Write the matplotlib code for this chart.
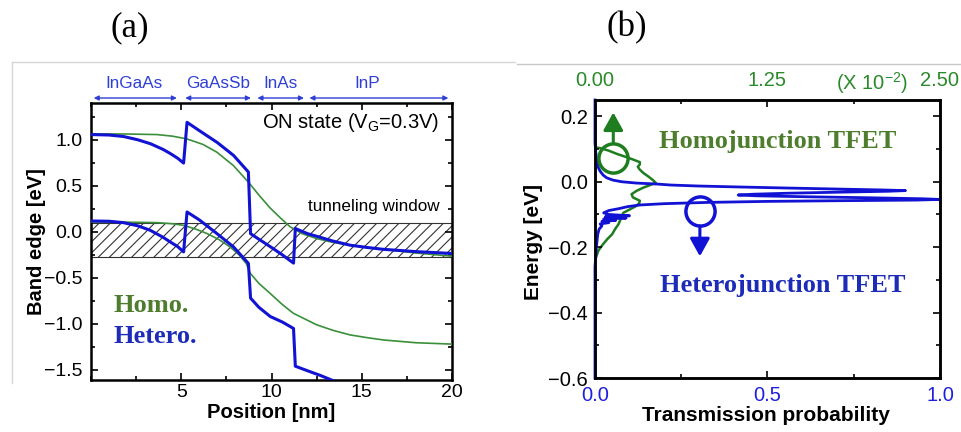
import matplotlib
matplotlib.use("Agg")
import matplotlib.pyplot as plt
from matplotlib.lines import Line2D
from matplotlib.ticker import MultipleLocator

plt.rcParams["font.family"] = ["Liberation Sans", "DejaVu Sans"]
plt.rcParams["hatch.linewidth"] = 0.8

# ---- panel (a): band edges along the channel ----
het_cb_x = [0.0, 1.0, 1.8, 2.6, 3.3, 4.0, 4.4, 4.8, 5.13, 5.32, 6.0, 7.0, 7.9, 8.72,
            8.84, 9.3, 10.0, 10.6, 11.22, 11.32, 12.0, 12.5, 13.4, 14.35, 15.3, 16.2, 18.0, 20.0]
het_cb_y = [1.057, 1.052, 1.036, 1.0, 0.957, 0.895, 0.85, 0.80, 0.747, 1.19, 1.10, 0.97, 0.83, 0.65,
            -0.02, -0.08, -0.17, -0.25, -0.34, 0.036, -0.02, -0.048, -0.10, -0.145, -0.17, -0.19, -0.215, -0.235]

het_vb_x = [0.0, 1.0, 1.8, 2.6, 3.28, 4.0, 4.39, 4.8, 5.13, 5.32, 6.0, 6.97, 7.89, 8.72,
            8.84, 9.3, 9.93, 10.6, 11.22, 11.32, 12.0, 12.7, 13.45]
het_vb_y = [0.118, 0.115, 0.10, 0.065, 0.017, -0.06, -0.11, -0.16, -0.218, 0.216, 0.13, -0.018, -0.163, -0.343,
            -0.72, -0.82, -0.92, -0.98, -1.05, -1.46, -1.51, -1.56, -1.62]

hom_cb_x = [0.0, 2.0, 3.65, 4.5, 5.31, 6.2, 6.97, 7.89, 8.72, 9.3, 9.92, 10.5, 11.03, 11.7,
            12.5, 13.4, 14.35, 15.3, 16.2, 18.0, 20.0]
hom_cb_y = [1.065, 1.063, 1.057, 1.04, 1.01, 0.95, 0.866, 0.72, 0.54, 0.40, 0.26, 0.15, 0.055, -0.02,
            -0.073, -0.115, -0.145, -0.17, -0.19, -0.23, -0.265]

hom_vb_x = [0.0, 2.0, 3.65, 4.5, 5.13, 5.8, 6.42, 7.1, 7.7, 8.2, 8.6, 8.82, 9.3, 9.93, 10.6,
            11.21, 12.5, 13.4, 14.35, 15.3, 16.2, 18.0, 20.0]
hom_vb_y = [0.107, 0.105, 0.10, 0.088, 0.071, 0.03, -0.018, -0.085, -0.163, -0.25, -0.343, -0.45, -0.56, -0.67, -0.79,
            -0.885, -1.01, -1.07, -1.12, -1.15, -1.175, -1.205, -1.22]

window_x = [0.0, 20.0]
window_lo = [-0.27, -0.27]
window_hi = [0.097, 0.097]

layer_names = ["InGaAs", "GaAsSb", "InAs", "InP"]
layer_spans = [(0.15, 4.76), (5.22, 8.86), (9.22, 11.8), (12.1, 19.8)]
layer_text_x = [2.4, 7.07, 10.5, 15.3]

# ---- panel (b): transmission vs energy ----
het_E = [0.25, 0.12, 0.093, 0.063, 0.045, 0.032, 0.020, 0.012, 0.005, 0.000, -0.004, -0.007,
         -0.010, -0.013, -0.016, -0.019, -0.022, -0.025, -0.027, -0.029, -0.032, -0.035, -0.038,
         -0.0405, -0.043, -0.046, -0.049, -0.052, -0.054, -0.056, -0.058, -0.060, -0.063, -0.067,
         -0.071, -0.076, -0.082, -0.088, -0.095, -0.100, -0.104, -0.107, -0.111, -0.114, -0.118,
         -0.121, -0.125, -0.129, -0.135, -0.145, -0.16, -0.18, -0.20, -0.23, -0.26, -0.60]
het_T = [0.0, 0.0, 0.002, 0.005, 0.009, 0.015, 0.024, 0.034, 0.052, 0.078, 0.12, 0.18,
         0.22, 0.30, 0.42, 0.55, 0.69, 0.83, 0.90, 0.85, 0.70, 0.56, 0.46,
         0.415, 0.47, 0.62, 0.80, 0.95, 1.0, 0.93, 0.70, 0.50, 0.33, 0.20,
         0.13, 0.095, 0.07, 0.04, 0.025, 0.04, 0.10, 0.03, 0.09, 0.025, 0.06,
         0.02, 0.04, 0.015, 0.02, 0.012, 0.008, 0.006, 0.004, 0.002, 0.0, 0.0]

hom_E = [0.105, 0.103, 0.095, 0.085, 0.075, 0.068, 0.060, 0.053, 0.046, 0.037, 0.027, 0.015,
         0.005, -0.003, -0.010, -0.018, -0.028, -0.038, -0.048, -0.058, -0.066, -0.075, -0.085,
         -0.095, -0.11, -0.13, -0.145, -0.16, -0.175, -0.19, -0.21, -0.24]
hom_T = [0.0, 0.038, 0.10, 0.16, 0.23, 0.275, 0.325, 0.325, 0.31, 0.325, 0.35, 0.39,
         0.42, 0.44, 0.40, 0.35, 0.30, 0.265, 0.275, 0.325, 0.32, 0.295, 0.25,
         0.205, 0.19, 0.17, 0.145, 0.125, 0.09, 0.06, 0.025, 0.0]   # in units of 1e-2

blue = "#1212d4"
green_line = "#3a8f3a"
green_dark = "#1e7d1e"
green_text = "#4e7d2e"
blue_text = "#1c2cb8"
label_blue = "#2f3fd6"

fig = plt.figure(figsize=(9.62, 4.32), dpi=100)

# decorative frame lines from the source screenshot
fig.add_artist(Line2D([12 / 962, 12 / 962], [1 - 62 / 432, 1 - 383 / 432], transform=fig.transFigure, color="#d6d6d6", lw=1))
fig.add_artist(Line2D([12 / 962, 515 / 962], [1 - 62 / 432, 1 - 62 / 432], transform=fig.transFigure, color="#d6d6d6", lw=1))
fig.add_artist(Line2D([517 / 962, 1.0], [1 - 64 / 432, 1 - 64 / 432], transform=fig.transFigure, color="#c8c8c8", lw=1))

fig.text(130 / 962, 1 - 28 / 432, "(a)", family="Liberation Serif", fontsize=25, ha="center", va="center")
fig.text(627 / 962, 1 - 28 / 432, "(b)", family="Liberation Serif", fontsize=25, ha="center", va="center")

# ---------------- panel (a) ----------------
ax = fig.add_axes([91 / 962, 1 - 380 / 432, 361 / 962, 277 / 432])
ax.fill_between(window_x, window_lo, window_hi, facecolor="white", edgecolor="#333333", hatch="///", lw=0.8, zorder=1)
ax.plot(hom_cb_x, hom_cb_y, color=green_line, lw=1.2, zorder=3)
ax.plot(hom_vb_x, hom_vb_y, color=green_line, lw=1.2, zorder=3)
ax.plot(het_cb_x, het_cb_y, color=blue, lw=2.2, zorder=4)
ax.plot(het_vb_x, het_vb_y, color=blue, lw=2.2, zorder=4)

ax.set_xlim(0, 20)
ax.set_ylim(-1.61, 1.4)
ax.xaxis.set_major_locator(MultipleLocator(5))
ax.xaxis.set_minor_locator(MultipleLocator(2.5))
ax.yaxis.set_major_locator(MultipleLocator(0.5))
ax.yaxis.set_minor_locator(MultipleLocator(0.25))
ax.set_xticks([5, 10, 15, 20])
ax.tick_params(which="both", direction="in", top=True, right=True, width=1.2)
ax.tick_params(which="major", length=5, labelsize=14)
ax.tick_params(which="minor", length=3)
ax.tick_params(axis="y", pad=6)
ax.tick_params(axis="x", pad=3)
for s in ax.spines.values():
    s.set_linewidth(1.8)
ax.set_xlabel("Position [nm]", fontsize=14.5, fontweight="bold", va="center")
ax.set_ylabel("Band edge [eV]", fontsize=14.5, fontweight="bold", va="center")
ax.xaxis.set_label_coords(0.498, -0.118)
ax.yaxis.set_label_coords(-0.152, 0.5)

for (x0, x1), name, xt in zip(layer_spans, layer_names, layer_text_x):
    ax.annotate("", xy=(x1, 1.018), xytext=(x0, 1.018), xycoords=ax.get_xaxis_transform(),
                arrowprops=dict(arrowstyle="<|-|>", color=label_blue, lw=1.0, mutation_scale=7, shrinkA=0, shrinkB=0),
                annotation_clip=False)
    ax.text(xt, 1.069, name, transform=ax.get_xaxis_transform(), ha="center", va="center",
            color=label_blue, fontsize=12.3)

ax.text(19.3, 1.19, "ON state (V$_\\mathregular{G}$=0.3V)", ha="right", va="center", fontsize=14.5)
ax.text(19.33, 0.27, "tunneling window", ha="right", va="center", fontsize=12.3)
ax.text(1.25, -0.80, "Homo.", family="Liberation Serif", fontweight="bold", fontsize=19,
        color=green_text, ha="left", va="center")
ax.text(1.25, -1.14, "Hetero.", family="Liberation Serif", fontweight="bold", fontsize=19,
        color=blue_text, ha="left", va="center")

# ---------------- panel (b) ----------------
axr = fig.add_axes([595 / 962, 1 - 378 / 432, 345 / 962, 278 / 432])
axt = axr.twiny()
axr.set_zorder(axt.get_zorder() + 1)
axr.patch.set_visible(False)

axt.plot(hom_T, hom_E, color=green_dark, lw=1.8)
axt.set_xlim(0, 2.5)
axt.set_xticks([0, 1.25, 2.5])
axt.set_xticklabels(["0.00", "1.25", "2.50"])
axt.xaxis.set_minor_locator(MultipleLocator(0.625))
axt.tick_params(which="both", direction="in", width=1.2, labelcolor="#2a8a2a", labelsize=14.5, pad=7)
axt.tick_params(which="major", length=5)
axt.tick_params(which="minor", length=3)

axr.plot(het_T, het_E, color=blue, lw=2.0, clip_on=False)
axr.set_xlim(0, 1.0)
axr.set_ylim(-0.6, 0.25)
axr.xaxis.set_major_locator(MultipleLocator(0.5))
axr.xaxis.set_minor_locator(MultipleLocator(0.25))
axr.yaxis.set_major_locator(MultipleLocator(0.2))
axr.yaxis.set_minor_locator(MultipleLocator(0.1))
axr.tick_params(which="both", direction="in", right=True, width=1.2)
axr.tick_params(which="major", length=5, labelsize=14.5)
axr.tick_params(which="minor", length=3)
axr.tick_params(axis="x", labelcolor="#1f1fdd", pad=6)
axr.tick_params(axis="y", pad=5)
for a in (axr, axt):
    for s in a.spines.values():
        s.set_linewidth(1.8)
axr.set_xlabel("Transmission probability", fontsize=15, fontweight="bold", va="center")
axr.set_ylabel("Energy [eV]", fontsize=15, fontweight="bold", va="center")
axr.xaxis.set_label_coords(0.495, -0.136)
axr.yaxis.set_label_coords(-0.178, 0.49)

fig.text(872 / 962, 1 - 83 / 432, "(X 10$^{\\mathregular{-2}}$)", color="#2a8a2a", fontsize=14.5, ha="center", va="center")

# circles with arrows pointing at each curve's axis
head = "-|>,head_length=0.45,head_width=0.25"
axr.plot([0.053], [0.073], marker="o", ms=21, mfc="none", mec=green_dark, mew=2.5, clip_on=False)
axr.annotate("", xy=(0.053, 0.212), xytext=(0.053, 0.119),
             arrowprops=dict(arrowstyle=head, color=green_dark, lw=2.2, mutation_scale=24, shrinkA=0, shrinkB=0))
axr.plot([0.304], [-0.089], marker="o", ms=21, mfc="none", mec=blue, mew=2.5, clip_on=False)
axr.annotate("", xy=(0.304, -0.228), xytext=(0.304, -0.135),
             arrowprops=dict(arrowstyle=head, color=blue, lw=2.2, mutation_scale=24, shrinkA=0, shrinkB=0))

axr.text(0.53, 0.124, "Homojunction TFET", family="Liberation Serif", fontweight="bold", fontsize=19,
         color=green_text, ha="center", va="center")
axr.text(0.545, -0.318, "Heterojunction TFET", family="Liberation Serif", fontweight="bold", fontsize=19,
         color=blue_text, ha="center", va="center")

fig.savefig("out.png", dpi=100)
